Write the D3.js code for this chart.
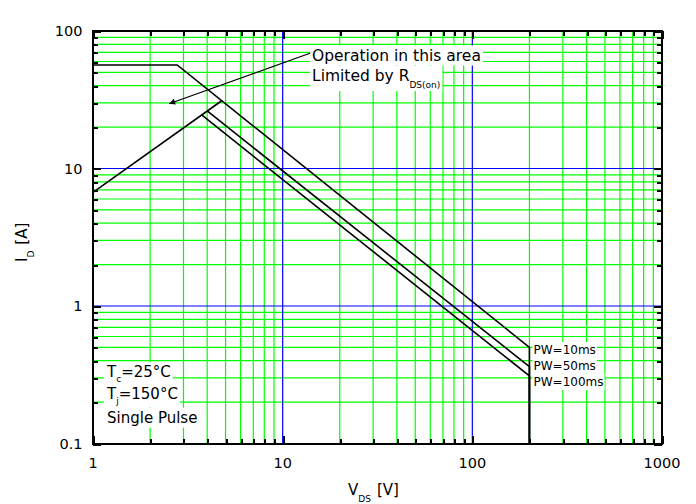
<!DOCTYPE html>
<html><head><meta charset="utf-8">
<script src="https://cdn.jsdelivr.net/npm/d3@7"></script>
<style>body{margin:0;background:#fff} svg{display:block}</style>
</head><body><svg id="c" width="696" height="504"></svg>
<script>
// ---- data ----
const xTickValues = [1, 10, 100, 1000];
const xTickLabels = ["1", "10", "100", "1000"];
const yTickValues = [0.1, 1, 10, 100];
const yTickLabels = ["0.1", "1", "10", "100"];
const minorMultiples = [2, 3, 4, 5, 6, 7, 8, 9];

// PW=10ms boundary (includes Id pulse max plateau)
const pw10V = [1, 2.78, 200, 200];
const pw10I = [56.6, 56.6, 0.5, 0.1];
// RDS(on) limit line
const rdsV = [1, 4.77];
const rdsI = [6.7, 31.1];
// PW=50ms
const pw50V = [4.0, 200, 200];
const pw50I = [26.2, 0.362, 0.1];
// PW=100ms
const pw100V = [3.74, 200, 200];
const pw100I = [24.5, 0.31, 0.1];
// annotation arrow (tail -> head)
const arrowV = [14.4, 2.52];
const arrowI = [70, 29.6];
const seriesLabels = ["PW=10ms", "PW=50ms", "PW=100ms"];

// ---- chart ----
const F = "'DejaVu Sans', sans-serif";
const svg = d3.select("#c");
const L = 93, R = 662, T = 31, B = 443.5;
const x = d3.scaleLog().domain([1, 1000]).range([L, R]);
const y = d3.scaleLog().domain([0.1, 100]).range([B, T]);
const px = v => Math.round(v) + 0.5;

const xMinor = [], yMinor = [];
xTickValues.slice(0, -1).forEach(d => minorMultiples.forEach(m => xMinor.push(d * m)));
yTickValues.slice(0, -1).forEach(d => minorMultiples.forEach(m => yMinor.push(d * m)));
const xMajorInner = xTickValues.slice(1, -1);
const yMajorInner = yTickValues.slice(1, -1);

const grid = svg.append("g");
function vline(v, c) {
  grid.append("line").attr("x1", x(v)).attr("x2", x(v)).attr("y1", T).attr("y2", B)
    .attr("stroke", c).attr("stroke-width", 1.2);
}
function hline(v, c) {
  grid.append("line").attr("y1", y(v)).attr("y2", y(v)).attr("x1", L).attr("x2", R)
    .attr("stroke", c).attr("stroke-width", 1.2);
}
xMinor.forEach(v => vline(v, "#00ff00"));
yMinor.forEach(v => hline(v, "#00ff00"));
xMajorInner.forEach(v => vline(v, "#0000ff"));
yMajorInner.forEach(v => hline(v, "#0000ff"));

// curves
const line = d3.line().x(d => x(d[0])).y(d => y(d[1]));
const curves = [
  d3.zip(pw10V, pw10I), d3.zip(rdsV, rdsI), d3.zip(pw50V, pw50I), d3.zip(pw100V, pw100I)
];
svg.append("g").selectAll("path").data(curves).join("path")
  .attr("d", line).attr("fill", "none").attr("stroke", "#000").attr("stroke-width", 1.6)
  .attr("stroke-linejoin", "miter");

// arrow
svg.append("defs").append("marker").attr("id", "ah").attr("viewBox", "0 0 10 10")
  .attr("refX", 10).attr("refY", 5).attr("markerWidth", 10).attr("markerHeight", 6)
  .attr("markerUnits", "userSpaceOnUse").attr("orient", "auto")
  .append("path").attr("d", "M0,0 L10,5 L0,10 Z").attr("fill", "#000");
svg.append("line").attr("x1", x(arrowV[0])).attr("y1", y(arrowI[0]))
  .attr("x2", x(arrowV[1])).attr("y2", y(arrowI[1]))
  .attr("stroke", "#000").attr("stroke-width", 1.2).attr("marker-end", "url(#ah)");

// frame + ticks
const ax = svg.append("g").attr("shape-rendering", "crispEdges");
ax.append("rect").attr("x", L).attr("y", T).attr("width", R - L).attr("height", B - T)
  .attr("fill", "none").attr("stroke", "#000").attr("stroke-width", 2);
function xtick(v, len) {
  const xx = px(x(v));
  ax.append("line").attr("x1", xx).attr("x2", xx).attr("y1", B).attr("y2", B - len).attr("stroke", "#000").attr("stroke-width", 2);
  ax.append("line").attr("x1", xx).attr("x2", xx).attr("y1", T).attr("y2", T + len).attr("stroke", "#000").attr("stroke-width", 2);
}
function ytick(v, len) {
  const yy = px(y(v));
  ax.append("line").attr("y1", yy).attr("y2", yy).attr("x1", L).attr("x2", L + len).attr("stroke", "#000").attr("stroke-width", 2);
  ax.append("line").attr("y1", yy).attr("y2", yy).attr("x1", R).attr("x2", R - len).attr("stroke", "#000").attr("stroke-width", 2);
}
xMinor.forEach(v => xtick(v, 5));
xTickValues.forEach(v => xtick(v, 8));
yMinor.forEach(v => ytick(v, 5));
yTickValues.forEach(v => ytick(v, 8));

xTickValues.forEach((v, i) => {
  svg.append("text").attr("x", x(v)).attr("y", 467.5).attr("text-anchor", "middle")
    .attr("font-family", F).attr("font-size", 14.5).text(xTickLabels[i]);
});
yTickValues.forEach((v, i) => {
  svg.append("text").attr("x", 82.5).attr("y", y(v) + 5.3).attr("text-anchor", "end")
    .attr("font-family", F).attr("font-size", 14.5).text(yTickLabels[i]);
});

// text helper with white background
function boxed(t, pad) {
  const b = t.node().getBBox();
  svg.insert("rect", () => t.node()).attr("x", b.x - pad).attr("y", b.y - 1)
    .attr("width", b.width + 2 * pad).attr("height", b.height + 2).attr("fill", "#fff");
}

// annotation text
const a1 = svg.append("text").attr("x", 312).attr("y", 60.5).attr("font-family", F).attr("font-size", 15.5)
  .text("Operation in this area");
boxed(a1, 2);
const a2 = svg.append("text").attr("x", 312).attr("y", 81).attr("font-family", F).attr("font-size", 15.5);
a2.append("tspan").text("Limited by R");
a2.append("tspan").attr("font-size", 9).attr("dy", 7).text("DS(on)");
boxed(a2, 2);

// series labels
seriesLabels.forEach((s, i) => {
  const t = svg.append("text").attr("x", 533.5).attr("y", [354, 369.5, 386][i])
    .attr("font-family", F).attr("font-size", 12).text(s);
  boxed(t, 1);
});

// condition text
const c1 = svg.append("text").attr("x", 107).attr("y", 377.3).attr("font-family", F).attr("font-size", 15);
c1.append("tspan").text("T");
c1.append("tspan").attr("font-size", 9).attr("dy", 5).text("c");
c1.append("tspan").attr("dy", -5).text("=25°C");
boxed(c1, 2);
const c2 = svg.append("text").attr("x", 107).attr("y", 399.3).attr("font-family", F).attr("font-size", 15);
c2.append("tspan").text("T");
c2.append("tspan").attr("font-size", 9).attr("dy", 5).text("j");
c2.append("tspan").attr("dy", -5).text("=150°C");
boxed(c2, 2);
const c3 = svg.append("text").attr("x", 107).attr("y", 422.7).attr("font-family", F).attr("font-size", 15)
  .text("Single Pulse");
boxed(c3, 2);

// axis titles
const xt = svg.append("text").attr("x", 348).attr("y", 495).attr("font-family", F).attr("font-size", 15);
xt.append("tspan").text("V");
xt.append("tspan").attr("font-size", 9).attr("dy", 7).text("DS");
xt.append("tspan").attr("dy", -7).attr("dx", 6).text("[V]");

const yt = svg.append("text").attr("transform", "translate(26.5,262) rotate(-90)")
  .attr("font-family", F).attr("font-size", 15);
yt.append("tspan").text("I");
yt.append("tspan").attr("font-size", 9).attr("dy", 7).text("D");
yt.append("tspan").attr("dy", -7).attr("dx", 6).text("[A]");
</script></body></html>
